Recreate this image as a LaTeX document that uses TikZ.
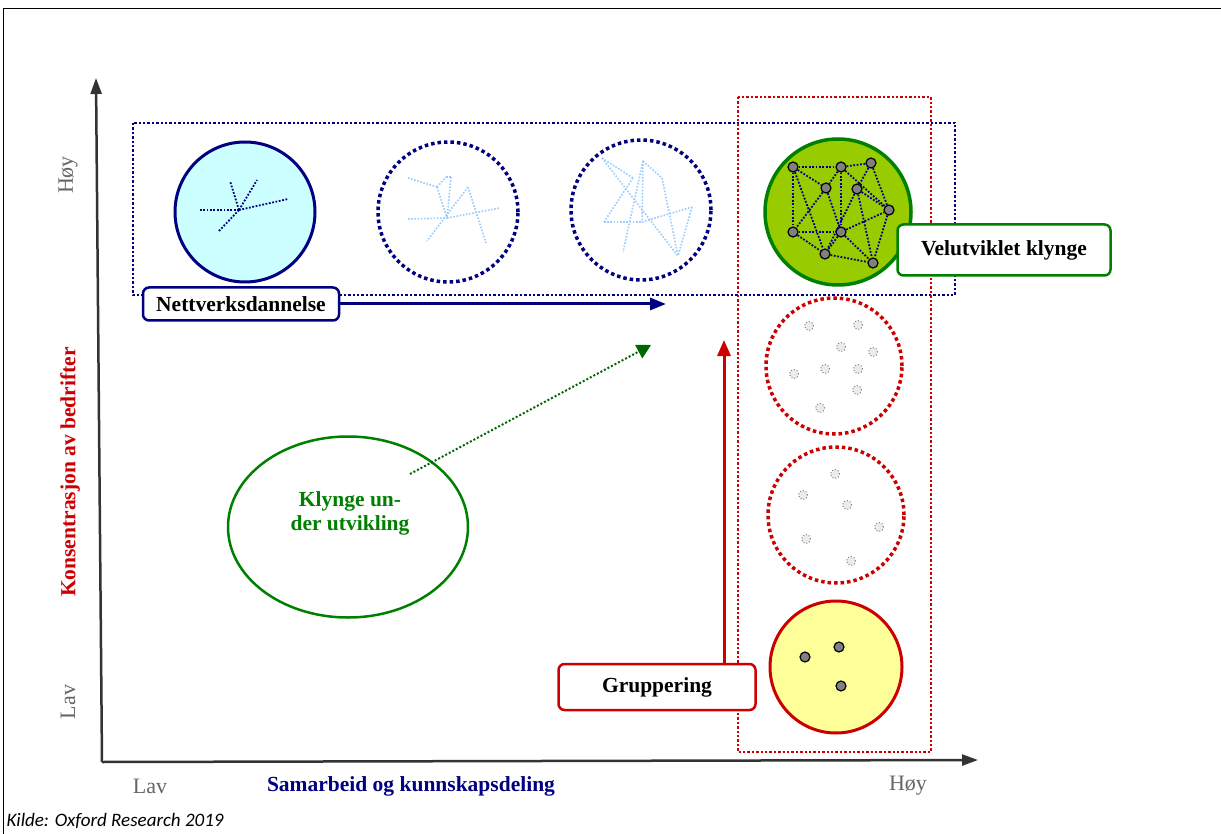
\documentclass[tikz,border=0pt]{standalone}
\usepackage{fontspec}
\setmainfont{Liberation Serif}
\newfontfamily\kildefont{Carlito}
\usepackage{tikz}
\usetikzlibrary{arrows.meta, positioning, shapes.geometric}

\definecolor{navy}{HTML}{000080}
\definecolor{rod}{HTML}{CC0000}
\definecolor{gronn}{HTML}{008000}
\definecolor{morkgronn}{HTML}{006600}
\definecolor{lysgronn}{HTML}{99CC00}
\definecolor{cyanfyll}{HTML}{CCFFFF}
\definecolor{gulfyll}{HTML}{FFFF99}
\definecolor{lysbla}{HTML}{99CCFF}
\definecolor{aksegra}{HTML}{333333}
\definecolor{tekstgra}{HTML}{666666}

\begin{document}
\begin{tikzpicture}[
        x=1pt, y=-1pt, >=Triangle,
        ax/.style={->, line width=2.5pt, draw=aksegra, -{Triangle[length=16pt,width=11pt]}},
        big/.style={circle, minimum size=140pt, inner sep=0pt},
        dotring/.style={big, line width=3.5pt, dash pattern=on 3.5pt off 3pt},
        lab/.style={font=\fontsize{21.5}{24}\selectfont\bfseries},
        tag/.style={lab, draw, rounded corners=6pt, fill=white, line width=2.5pt},
        tick/.style={font=\fontsize{22}{24}\selectfont, text=tekstgra},
        web/.style={draw=lysbla, line width=1.6pt, dash pattern=on 1.6pt off 1.6pt},
        net/.style={draw=navy, line width=1.8pt, dash pattern=on 1.8pt off 1.6pt},
        knot/.style={circle, draw=black, fill=gray, line width=1.2pt, minimum size=10pt, inner sep=0pt},
        fleck/.style={circle, draw=gray, fill=gray!15, dotted, line width=1pt, minimum size=9pt, inner sep=0pt}
    ]
        \useasboundingbox (0,0) rectangle (1221,834);

        % ramme
        \draw[line width=1pt] (3,834) -- (3,9) -- (1221,9);

        % akser
        \coordinate (o) at (102,762);
        \coordinate (ytop) at (96,78);
        \coordinate (xend) at (978,760);
        \draw[ax] (o) -- (ytop);
        \draw[ax] (o) -- (xend);

        \node[tick, rotate=90] (yhi) at (68,175) {Høy};
        \node[tick, rotate=90] (ylo) at (68,702) {Lav};
        \node[lab, rotate=90, text=rod] (ylab) at (70,472) {Konsentrasjon av bedrifter};
        \node[tick] (xlo) at (150,786) {Lav};
        \node[lab, text=navy] (xlab) at (411,786) {Samarbeid og kunnskapsdeling};
        \node[tick] (xhi) at (908,786) {Høy};
        \node[anchor=west, font=\kildefont\itshape\fontsize{19}{22}\selectfont] (kilde) at (3,821) {Kilde: Oxford Research 2019};

        % rammer rundt rad og kolonne
        \draw[navy, line width=2.4pt, dash pattern=on 2.4pt off 2pt] (133,123) rectangle (955,295);
        \draw[rod, line width=2.4pt, dash pattern=on 2.4pt off 2pt] (738,97) rectangle (931,752);

        % nettverksdannelse, rad 1
        \node[big, draw=navy, fill=cyanfyll, line width=3pt] (c1) at (245,212) {};
        \coordinate (a0) at (239,210);
        \foreach \n/\p in {1/{200,210}, 2/{288,199}, 3/{230,181}, 4/{257,180}, 5/{219,231}}
            \coordinate (a\n) at (\p);
        \foreach \n in {1,...,5}
            \draw[net] (a0) -- (a\n);

        \node[dotring, draw=navy] (c2) at (448,212) {};
        \foreach \n/\p in {1/{408,178}, 2/{437,187}, 3/{446,177}, 4/{451,177}, 5/{447,218},
                6/{468,187}, 7/{427,241}, 8/{486,243}, 9/{408,219}, 10/{500,208}}
            \coordinate (b\n) at (\p);
        \foreach \a/\b in {1/2, 2/3, 3/4, 4/5, 2/5, 6/7, 6/8, 9/5, 5/10}
            \draw[web] (b\a) -- (b\b);

        \node[dotring, draw=navy] (c3) at (641,210) {};
        \foreach \n/\p in {1/{602,158}, 2/{643,161}, 3/{662,178}, 4/{692,207}, 5/{604,222},
                6/{642,222}, 7/{623,252}, 8/{678,256}, 9/{633,178}}
            \coordinate (d\n) at (\p);
        \foreach \a/\b in {1/9, 9/5, 5/6, 2/6, 2/3, 3/8, 2/7, 1/8, 6/4, 4/8}
            \draw[web] (d\a) -- (d\b);

        % velutviklet klynge
        \node[big, minimum size=146pt, draw=gronn, fill=lysgronn, line width=3.5pt] (c4) at (838,212) {};
        \foreach \n/\p in {1/{793,167}, 2/{841,167}, 3/{871,163}, 4/{826,188}, 5/{857,189},
                6/{889,210}, 7/{793,232}, 8/{841,232}, 9/{825,254}, 10/{873,263}}
            \node[knot] (g\n) at (\p) {};
        \foreach \a/\b in {1/2, 2/3, 1/4, 1/7, 1/9, 2/4, 2/8, 2/6, 3/5, 3/6, 4/7, 4/8, 5/9,
                5/10, 5/6, 7/8, 7/9, 8/6, 8/9, 8/10, 9/10, 6/10}
            \draw[net] (g\a) -- (g\b);
        \node[tag, draw=gronn, minimum width=213pt, minimum height=51pt] (vel) at (1004,250) {Velutviklet klynge};

        % gruppering, kolonne
        \node[dotring, minimum size=136pt, draw=rod] (c5) at (834,366) {};
        \foreach \p [count=\n] in {{809,326}, {858,325}, {841,347}, {873,352}, {794,374},
                {825,369}, {858,369}, {857,390}, {820,408}}
            \node[fleck] (f\n) at (\p) {};

        \node[dotring, minimum size=136pt, draw=rod] (c6) at (836,515) {};
        \foreach \p [count=\n] in {{835,474}, {803,495}, {847,505}, {879,527}, {806,539}, {851,561}}
            \node[fleck] (h\n) at (\p) {};

        \node[big, minimum size=132pt, draw=rod, fill=gulfyll, line width=3pt] (c7) at (836,667) {};
        \node[knot] (k1) at (805,657) {};
        \node[knot] (k2) at (839,647) {};
        \node[knot] (k3) at (841,686) {};

        % merkelapper og piler
        \node[tag, draw=navy, minimum width=196pt, minimum height=33pt] (nett) at (241,304) {Nettverksdannelse};
        \coordinate (nettend) at (666,304);
        \draw[->, navy, line width=3pt, -{Triangle[length=16pt,width=12pt]}] (nett.east) -- (nettend);

        \node[tag, draw=rod, minimum width=197pt, minimum height=46pt] (grp) at (657,687) {Gruppering};
        \coordinate (grpend) at (724,340);
        \draw[->, rod, line width=3pt, -{Triangle[length=16pt,width=13pt]}] (grp.north -| grpend) -- (grpend);

        \node[ellipse, draw=gronn, line width=2.5pt, minimum width=240pt, minimum height=181pt] (dev) at (348,527) {};
        \node[lab, text=gronn, align=center] (devlab) at (350,513) {Klynge un-\\der utvikling};
        \coordinate (devstart) at (410,474);
        \coordinate (devend) at (651,345);
        \draw[->, morkgronn, line width=2pt, dash pattern=on 2pt off 2pt, -{Triangle[length=14pt,width=15pt]}] (devstart) -- (devend);
    \end{tikzpicture}
\end{document}
